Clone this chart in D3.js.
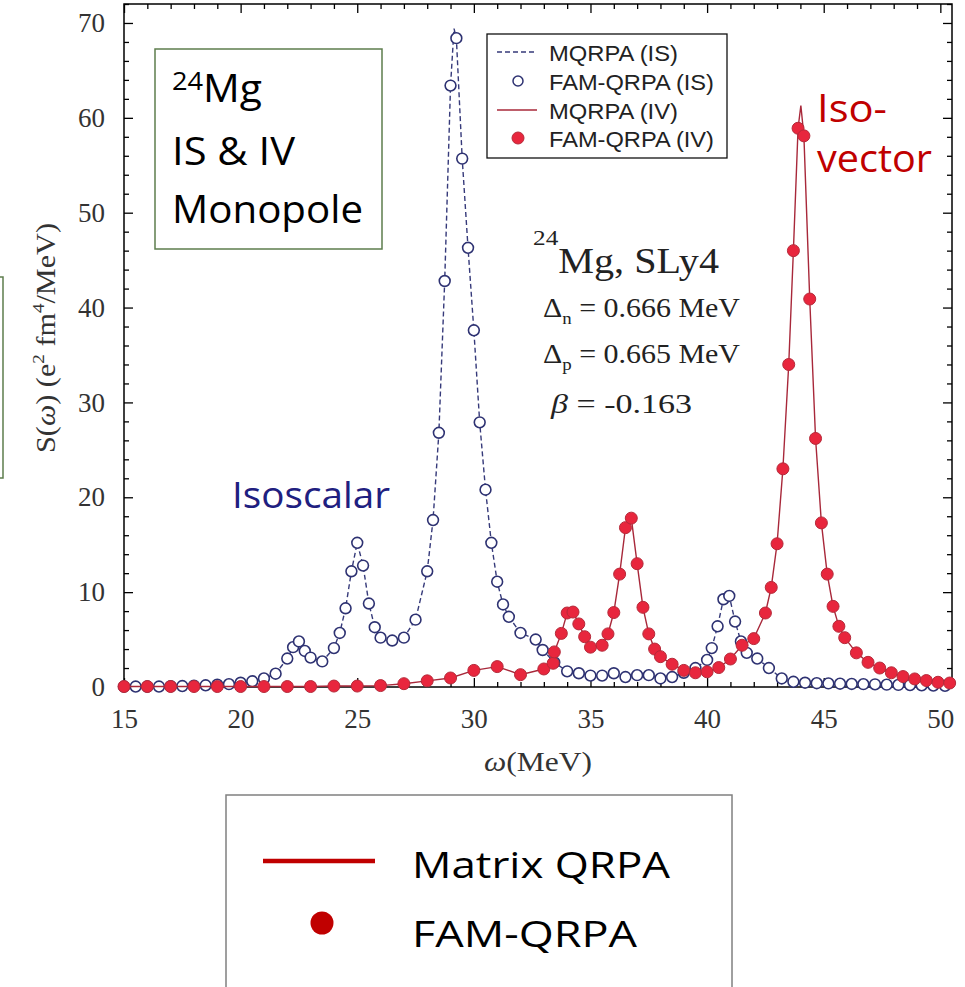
<!DOCTYPE html>
<html><head><meta charset="utf-8">
<script src="https://cdn.jsdelivr.net/npm/d3@7"></script>
<style>body{margin:0;background:#fff} svg{display:block}</style>
</head><body>
<svg id="c" width="965" height="987"></svg>
<script>
// ---------- data ----------
const isX = [15,15.5,16,16.5,17,17.5,18,18.5,19,19.5,20,20.5,21,21.5,22,22.25,22.5,22.75,23,23.5,24,24.25,24.5,24.75,25,25.25,25.5,25.75,26,26.5,27,27.5,28,28.25,28.5,28.75,29,29.25,29.5,29.75,30,30.25,30.5,30.75,31,31.25,31.5,32,32.65,32.95,33.45,34,34.5,35,35.5,36,36.5,37,37.5,38,38.5,39,39.5,40,40.2,40.45,40.7,40.95,41.2,41.45,41.7,42.15,42.65,43.2,43.7,44.2,44.7,45.2,45.7,46.2,46.7,47.2,47.7,48.2,48.7,49.2,49.7,50.2];
const isY = [0.05,0.05,0.05,0.05,0.08,0.1,0.15,0.18,0.25,0.3,0.45,0.6,0.9,1.4,3.0,4.2,4.8,3.8,3.1,2.7,4.1,5.7,8.3,12.2,15.2,12.8,8.8,6.3,5.2,4.9,5.2,7.1,12.2,17.6,26.8,42.8,63.4,68.4,55.7,46.3,37.6,27.9,20.8,15.2,11.1,8.7,7.4,5.7,5.0,3.9,2.6,1.65,1.45,1.2,1.2,1.45,1.05,1.25,1.25,0.9,1.05,1.5,2.0,2.85,4.1,6.4,9.25,9.6,6.9,4.8,3.6,3.0,2.0,0.9,0.55,0.45,0.4,0.38,0.35,0.32,0.3,0.28,0.25,0.22,0.2,0.18,0.15,0.12];
const ivX = [15,16,17,18,19,20,21,22,23,24,25,26,27,28,29,30,31,32,33,33.4,33.45,33.75,34,34.25,34.5,34.75,35,35.5,35.75,36,36.25,36.5,36.75,37,37.25,37.5,37.75,38,38.5,39,39.5,40,40.5,41,41.5,42,42.5,42.75,43,43.25,43.5,43.7,43.9,44.15,44.4,44.65,44.9,45.15,45.4,45.65,45.9,46.4,46.9,47.4,47.9,48.4,48.9,49.4,49.9,50.4];
const ivY = [0.05,0.05,0.05,0.05,0.05,0.05,0.05,0.05,0.05,0.1,0.1,0.15,0.35,0.65,0.95,1.75,2.15,1.3,1.9,2.5,3.7,5.65,7.8,7.9,6.65,5.3,4.2,4.4,5.6,7.85,11.9,16.8,17.8,13.0,8.4,5.6,4.0,3.2,2.4,1.75,1.5,1.6,2.05,2.95,4.4,5.1,7.8,10.5,15.1,23.0,34.0,46.0,58.9,58.1,40.9,26.2,17.3,11.9,8.5,6.4,5.2,3.6,2.6,2.0,1.5,1.1,0.85,0.68,0.5,0.42];
const isLinePeak = [29.15, 69.4];   // MQRPA (IS) curve maximum
const ivLinePeak = [44.02, 61.3];   // MQRPA (IV) curve maximum
const xTicks = [15,20,25,30,35,40,45,50];
const yTicks = [0,10,20,30,40,50,60,70];
const legendLabels = ["MQRPA (IS)","FAM-QRPA (IS)","MQRPA (IV)","FAM-QRPA (IV)"];
const bottomLegendLabels = ["Matrix QRPA","FAM-QRPA"];

// ---------- layout ----------
const svg = d3.select("#c");
const L=124, R=952, T=4, B=687;
const x = d3.scaleLinear().domain([15,50.5]).range([L,R]);
const y = d3.scaleLinear().domain([0,72]).range([B,T]);
const SERIF = "'Liberation Serif','Times New Roman',serif";
const SANS = "'Liberation Sans',Arial,sans-serif";
const UI = "'Open Sans','Noto Sans',sans-serif";
const IS_C = "#2e3272", IS_LINE = "#363a7a", IV_FILL = "#e8263d", IV_EDGE = "#b52a3a", IV_LINE = "#a8283a";

const xMinor = d3.range(15,51,1).filter(v=>v%5!==0);
const yMinor = d3.range(0,73,2).filter(v=>v%10!==0);

function styleAxis(g){
  g.select(".domain").remove();
  g.selectAll("line").attr("stroke","#000").attr("stroke-width",1.3);
  g.selectAll("text").attr("font-family",SERIF).attr("font-size",27).attr("fill","#333");
}
// bottom
svg.append("g").attr("transform",`translate(0,${B})`)
  .call(d3.axisBottom(x).tickValues(xTicks).tickSize(-9).tickPadding(22).tickFormat(d3.format("d"))).call(styleAxis);
svg.append("g").attr("transform",`translate(0,${B})`)
  .call(d3.axisBottom(x).tickValues(xMinor).tickSize(-5).tickFormat("")).call(styleAxis);
// top
svg.append("g").attr("transform",`translate(0,${T})`)
  .call(d3.axisTop(x).tickValues(xTicks).tickSize(-9).tickFormat("")).call(styleAxis);
svg.append("g").attr("transform",`translate(0,${T})`)
  .call(d3.axisTop(x).tickValues(xMinor).tickSize(-5).tickFormat("")).call(styleAxis);
// left
svg.append("g").attr("transform",`translate(${L},0)`)
  .call(d3.axisLeft(y).tickValues(yTicks).tickSize(-9).tickPadding(19).tickFormat(d3.format("d"))).call(styleAxis);
svg.append("g").attr("transform",`translate(${L},0)`)
  .call(d3.axisLeft(y).tickValues(yMinor).tickSize(-5).tickFormat("")).call(styleAxis);
// right
svg.append("g").attr("transform",`translate(${R},0)`)
  .call(d3.axisRight(y).tickValues(yTicks).tickSize(-9).tickFormat("")).call(styleAxis);
svg.append("g").attr("transform",`translate(${R},0)`)
  .call(d3.axisRight(y).tickValues(yMinor).tickSize(-5).tickFormat("")).call(styleAxis);

svg.append("rect").attr("x",L).attr("y",T).attr("width",R-L).attr("height",B-T)
  .attr("fill","none").attr("stroke","#000").attr("stroke-width",1.5);

// ---------- series ----------
const isPts = isX.map((v,i)=>({x:v,y:isY[i]}));
const ivPts = ivX.map((v,i)=>({x:v,y:ivY[i]}));
const isLine = isPts.concat([{x:isLinePeak[0],y:isLinePeak[1]}]).sort((a,b)=>a.x-b.x);
const ivLine = ivPts.concat([{x:ivLinePeak[0],y:ivLinePeak[1]}]).sort((a,b)=>a.x-b.x);
const line = d3.line().x(d=>x(d.x)).y(d=>y(d.y));

svg.append("path").attr("d",line(isLine)).attr("fill","none").attr("stroke",IS_LINE)
  .attr("stroke-width",1.4).attr("stroke-dasharray","5,3");
svg.append("g").selectAll("circle").data(isPts).join("circle")
  .attr("cx",d=>x(d.x)).attr("cy",d=>y(d.y)).attr("r",5.4)
  .attr("fill","#fff").attr("stroke",IS_C).attr("stroke-width",1.6);
svg.append("path").attr("d",line(ivLine)).attr("fill","none").attr("stroke",IV_LINE).attr("stroke-width",1.4);
svg.append("g").selectAll("circle").data(ivPts).join("circle")
  .attr("cx",d=>x(d.x)).attr("cy",d=>y(d.y)).attr("r",6)
  .attr("fill",IV_FILL).attr("stroke",IV_EDGE).attr("stroke-width",1);

// ---------- axis titles ----------
const yl = svg.append("text").attr("transform","translate(55,338) rotate(-90)")
  .attr("text-anchor","middle").attr("font-family",SERIF).attr("font-size",27).attr("fill","#333")
  .attr("textLength",230).attr("lengthAdjust","spacingAndGlyphs");
yl.append("tspan").text("S(");
yl.append("tspan").attr("font-style","italic").text("ω");
yl.append("tspan").text(") (e");
yl.append("tspan").attr("dy",-11).attr("font-size",17).text("2");
yl.append("tspan").attr("dy",11).text(" fm");
yl.append("tspan").attr("dy",-11).attr("font-size",17).text("4");
yl.append("tspan").attr("dy",11).text("/MeV)");

const xl = svg.append("text").attr("x",(L+R)/2).attr("y",771).attr("text-anchor","middle")
  .attr("font-family",SERIF).attr("font-size",27).attr("fill","#333")
  .attr("textLength",108).attr("lengthAdjust","spacingAndGlyphs");
xl.append("tspan").attr("font-style","italic").text("ω");
xl.append("tspan").text("(MeV)");

// ---------- inner legend ----------
svg.append("rect").attr("x",487).attr("y",34).attr("width",240).attr("height",124)
  .attr("fill","#fff").attr("stroke","#111").attr("stroke-width",1.3);
const rowY = [52,81,110,138];
svg.append("line").attr("x1",497).attr("x2",537).attr("y1",rowY[0]).attr("y2",rowY[0])
  .attr("stroke",IS_LINE).attr("stroke-width",1.4).attr("stroke-dasharray","5,3");
svg.append("circle").attr("cx",518).attr("cy",rowY[1]).attr("r",5)
  .attr("fill","#fff").attr("stroke",IS_C).attr("stroke-width",1.5);
svg.append("line").attr("x1",497).attr("x2",537).attr("y1",rowY[2]).attr("y2",rowY[2])
  .attr("stroke",IV_LINE).attr("stroke-width",1.4);
svg.append("circle").attr("cx",518).attr("cy",rowY[3]).attr("r",6)
  .attr("fill",IV_FILL).attr("stroke",IV_EDGE).attr("stroke-width",1);
const legW = [129,165,129,165];
svg.append("g").selectAll("text").data(legendLabels).join("text")
  .attr("x",549).attr("y",(d,i)=>rowY[i]+8.5).attr("font-family",SANS).attr("font-size",22).attr("fill","#222")
  .attr("textLength",(d,i)=>legW[i]).attr("lengthAdjust","spacingAndGlyphs").text(d=>d);

// ---------- annotation ----------
const a1 = svg.append("text").attr("x",533).attr("y",273).attr("font-family",SERIF).attr("fill","#222")
  .attr("textLength",186).attr("lengthAdjust","spacingAndGlyphs");
a1.append("tspan").attr("dy",-28).attr("font-size",22).text("24");
a1.append("tspan").attr("dy",28).attr("font-size",35).text("Mg, SLy4");

function deltaLine(yb, sub, val){
  const t = svg.append("text").attr("x",543).attr("y",yb).attr("font-family",SERIF).attr("font-size",27).attr("fill","#222")
    .attr("textLength",197).attr("lengthAdjust","spacingAndGlyphs");
  t.append("tspan").text("Δ");
  t.append("tspan").attr("dy",7).attr("font-size",17).text(sub);
  t.append("tspan").attr("dy",-7).text(" = " + val + " MeV");
}
deltaLine(317,"n","0.666");
deltaLine(363,"p","0.665");
const b = svg.append("text").attr("x",551).attr("y",413).attr("font-family",SERIF).attr("font-size",27).attr("fill","#222")
  .attr("textLength",141).attr("lengthAdjust","spacingAndGlyphs");
b.append("tspan").attr("font-style","italic").text("β");
b.append("tspan").text("  = -0.163");

// ---------- green box ----------
svg.append("rect").attr("x",155).attr("y",49).attr("width",227).attr("height",200)
  .attr("fill","#fff").attr("stroke","#5d7d4d").attr("stroke-width",1.5);
const m = svg.append("text").attr("x",172).attr("y",102).attr("font-family",UI).attr("fill","#000")
  .attr("textLength",90).attr("lengthAdjust","spacingAndGlyphs");
m.append("tspan").attr("dy",-12).attr("font-size",26).text("24");
m.append("tspan").attr("dy",12).attr("font-size",39).text("Mg");
svg.append("text").attr("x",172).attr("y",165).attr("font-family",UI).attr("font-size",39)
  .attr("textLength",123).attr("lengthAdjust","spacingAndGlyphs").text("IS & IV");
svg.append("text").attr("x",172).attr("y",223).attr("font-family",UI).attr("font-size",39)
  .attr("textLength",191).attr("lengthAdjust","spacingAndGlyphs").text("Monopole");
// partial box on the left edge
svg.append("path").attr("d","M0,277H3V478H0").attr("fill","none").attr("stroke","#5d7d4d").attr("stroke-width",1.5);

// ---------- series labels ----------
svg.append("text").attr("x",232).attr("y",508).attr("font-family",UI).attr("font-size",37).attr("fill","#1f2080")
  .attr("textLength",158).attr("lengthAdjust","spacingAndGlyphs").text("Isoscalar");
svg.append("text").attr("x",817).attr("y",122).attr("font-family",UI).attr("font-size",38).attr("fill","#c00000")
  .attr("textLength",70).attr("lengthAdjust","spacingAndGlyphs").text("Iso-");
svg.append("text").attr("x",817).attr("y",172).attr("font-family",UI).attr("font-size",38).attr("fill","#c00000")
  .attr("textLength",115).attr("lengthAdjust","spacingAndGlyphs").text("vector");

// ---------- bottom legend ----------
svg.append("rect").attr("x",226).attr("y",795).attr("width",506).attr("height",210)
  .attr("fill","#fff").attr("stroke","#808080").attr("stroke-width",1.5);
svg.append("line").attr("x1",263).attr("x2",375).attr("y1",861).attr("y2",861)
  .attr("stroke","#c00000").attr("stroke-width",4.5);
svg.append("circle").attr("cx",322).attr("cy",923).attr("r",11.5).attr("fill","#c00000");
const bw = [258,225];
svg.append("g").selectAll("text").data(bottomLegendLabels).join("text")
  .attr("x",412).attr("y",(d,i)=>[878,947][i]).attr("font-family",UI).attr("font-size",37).attr("fill","#000")
  .attr("textLength",(d,i)=>bw[i]).attr("lengthAdjust","spacingAndGlyphs").text(d=>d);
</script>
</body></html>
